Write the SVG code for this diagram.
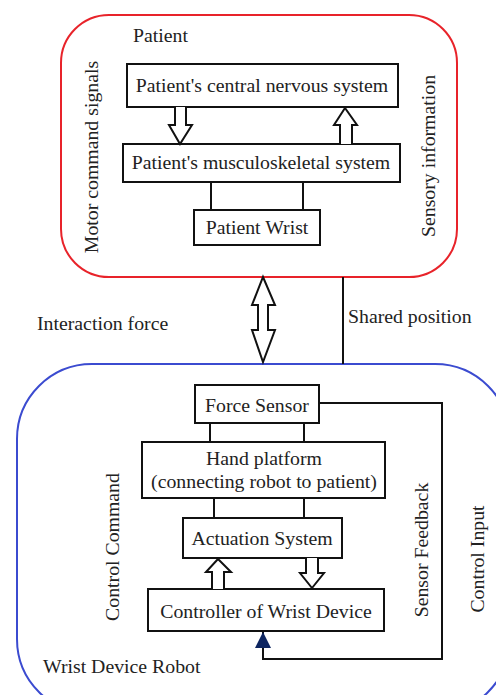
<svg xmlns="http://www.w3.org/2000/svg" width="496" height="695" viewBox="0 0 496 695" font-family="Times New Roman, Liberation Serif, Tinos, Noto Serif, DejaVu Serif, serif">
<style>
text{font-family:"Times New Roman","Liberation Serif",Tinos,"Noto Serif","DejaVu Serif",serif;font-size:19.8px;fill:#222}
.box{fill:#fff;stroke:#111;stroke-width:2}
.ln{fill:none;stroke:#111;stroke-width:2}
.hollow{fill:#fff;stroke:#111;stroke-width:2;stroke-linejoin:miter}
.mid{text-anchor:middle}
</style>
<defs>
<marker id="navy" viewBox="0 0 10 10" refX="10" refY="5" markerWidth="16" markerHeight="16" markerUnits="userSpaceOnUse" orient="auto">
<path d="M0,0 L10,5 L0,10 z" fill="#0d2560"/>
</marker>
</defs>
<g id="patient-group">
<rect x="61" y="15" width="396" height="262" rx="48" ry="48" fill="none" stroke="#e8232a" stroke-width="2"/>
<text x="133" y="42">Patient</text>
<text transform="translate(98,157) rotate(-90)" class="mid">Motor command signals</text>
<text transform="translate(435,156) rotate(-90)" class="mid">Sensory information</text>
</g>
<g id="robot-group">
<rect x="17" y="364" width="493" height="350" rx="75" ry="75" fill="none" stroke="#3b4bd0" stroke-width="2"/>
<text x="43" y="673">Wrist Device Robot</text>
<text transform="translate(119,547) rotate(-90)" class="mid">Control Command</text>
<text transform="translate(428,550) rotate(-90)" class="mid">Sensor Feedback</text>
<text transform="translate(484,559) rotate(-90)" class="mid">Control Input</text>
</g>
<g id="cns"><rect class="box" x="127" y="64" width="271" height="43"/><text class="mid" x="262" y="92">Patient's central nervous system</text></g>
<g id="musculo"><rect class="box" x="123" y="144" width="277" height="38"/><text class="mid" x="261" y="169">Patient's musculoskeletal system</text></g>
<g id="wrist"><rect class="box" x="194" y="210" width="126" height="35"/><text class="mid" x="257" y="234">Patient Wrist</text></g>
<g id="force"><rect class="box" x="195" y="385" width="124" height="38"/><text class="mid" x="257" y="412">Force Sensor</text></g>
<g id="hand"><rect class="box" x="142" y="442" width="243" height="56"/><text class="mid" x="264" y="465">Hand platform</text><text class="mid" x="264" y="488">(connecting robot to patient)</text></g>
<g id="actuation"><rect class="box" x="183" y="518" width="159" height="40"/><text class="mid" x="262" y="545">Actuation System</text></g>
<g id="controller"><rect class="box" x="148" y="589" width="236" height="42"/><text class="mid" x="266" y="618">Controller of Wrist Device</text></g>
<g id="connectors">
<path class="hollow" d="M175,107 V125 H169 L180,144 L192,125 H186 V107"/>
<path class="hollow" d="M340,144 V125 H334 L345,108 L357,125 H352 V144"/>
<line class="ln" x1="211" y1="182" x2="211" y2="210"/>
<line class="ln" x1="303" y1="182" x2="303" y2="210"/>
<path class="hollow" d="M263,277 L275,305 H268 V330 H275 L263,362 L252,330 H258 V305 H252 Z"/>
<text x="348" y="323">Shared position</text>
<text x="37" y="330">Interaction force</text>
<line class="ln" x1="343" y1="277" x2="343" y2="364"/>
<line class="ln" x1="210" y1="423" x2="210" y2="442"/>
<line class="ln" x1="304" y1="423" x2="304" y2="442"/>
<line class="ln" x1="214" y1="498" x2="214" y2="518"/>
<line class="ln" x1="304" y1="498" x2="304" y2="518"/>
<path class="hollow" d="M212,589 V572 H206 L218,559 L231,572 H224 V589"/>
<path class="hollow" d="M306,558 V573 H300 L312,588 L324,573 H318 V558"/>
<path class="ln" d="M319,403 H442 V659 H263 V632" marker-end="url(#navy)"/>
</g>
</svg>
